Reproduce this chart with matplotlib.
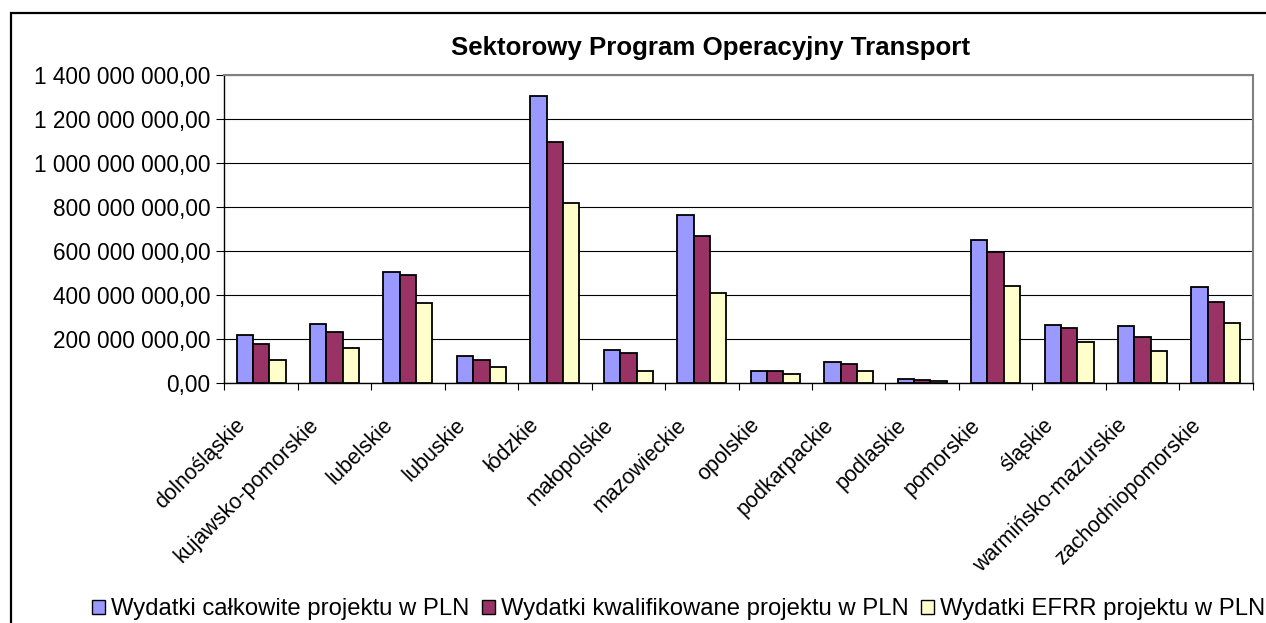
import matplotlib.pyplot as plt
import numpy as np
from matplotlib.patches import Patch, Rectangle
from matplotlib.ticker import FuncFormatter
from matplotlib.transforms import ScaledTranslation

# data (PLN)
regions = ["dolnośląskie", "kujawsko-pomorskie", "lubelskie", "lubuskie", "łódzkie",
           "małopolskie", "mazowieckie", "opolskie", "podkarpackie", "podlaskie",
           "pomorskie", "śląskie", "warmińsko-mazurskie", "zachodniopomorskie"]
total = [215e6, 265e6, 505e6, 120e6, 1305e6, 150e6, 764e6, 55e6, 94e6, 15e6,
         650e6, 264e6, 256e6, 434e6]
qualified = [176e6, 232e6, 490e6, 102e6, 1095e6, 135e6, 668e6, 54e6, 86e6, 14e6,
             594e6, 249e6, 209e6, 368e6]
efrr = [103e6, 159e6, 361e6, 71e6, 818e6, 55e6, 409e6, 38e6, 55e6, 6e6,
        441e6, 184e6, 143e6, 271e6]
series_names = ["Wydatki całkowite projektu w PLN",
                "Wydatki kwalifikowane projektu w PLN",
                "Wydatki EFRR projektu w PLN"]
colors = ["#9999FF", "#993366", "#FFFFCC"]

plt.rcParams['font.family'] = ['Liberation Sans', 'DejaVu Sans']

fig = plt.figure(figsize=(12.66, 6.23), dpi=100)
ax = fig.add_axes([0.1772, 0.3857, 0.8123, 0.4944])

x = np.arange(len(regions))
w = 1 / 4.5
for i, vals in enumerate([total, qualified, efrr]):
    ax.bar(x + (i - 1) * w, vals, width=w, color=colors[i],
           edgecolor="black", linewidth=1.3, zorder=3)

ax.set_xlim(-0.5, len(regions) - 0.5)
ax.set_ylim(0, 1400e6)
ax.set_yticks(np.arange(0, 1400e6 + 1, 200e6))


def fmt(v, pos):
    s = f"{v:,.2f}"
    return s.replace(",", " ").replace(".", ",")


ax.yaxis.set_major_formatter(FuncFormatter(fmt))
ax.yaxis.grid(True, color="black", linewidth=0.8, zorder=0)
ax.tick_params(axis="y", labelsize=16.3, length=6, direction="out", width=0.8, pad=4)

ax.set_xticks(np.arange(-0.5, len(regions) + 0.5, 1))
ax.set_xticklabels([])
ax.set_xticks(x, minor=True)
ax.set_xticklabels(regions, minor=True, rotation=45, ha="right", va="top",
                   fontsize=15.5)
ax.tick_params(axis="x", which="major", length=5, width=0.8, direction="out")
ax.tick_params(axis="x", which="minor", length=0, pad=23)
shift = ScaledTranslation(-8 / 72, 0, fig.dpi_scale_trans)
for lab in ax.get_xticklabels(minor=True):
    lab.set_transform(lab.get_transform() + shift)

for s in ["left", "bottom"]:
    ax.spines[s].set_color("black")
    ax.spines[s].set_linewidth(1.0)
for s in ["top", "right"]:
    ax.spines[s].set_color("#808080")
    ax.spines[s].set_linewidth(1.5)

fig.text(0.5616, 0.9230, "Sektorowy Program Operacyjny Transport",
         ha="center", va="center", fontsize=18.6, fontweight="bold")

handles = [Patch(facecolor=c, edgecolor="black", linewidth=1.0) for c in colors]
fig.legend(handles, series_names, loc="center", bbox_to_anchor=(0.536, 0.022),
           ncol=3, frameon=False, handlelength=0.55, handleheight=0.55,
           handletextpad=0.25, columnspacing=0.5,
           prop={"size": 17.2})

fig.patches.append(Rectangle((11 / 1266, -0.1), 1.2, 1 - 13 / 623 + 0.1,
                             transform=fig.transFigure, fill=False,
                             edgecolor="black", linewidth=1.6))

fig.savefig("out.png", dpi=100)
